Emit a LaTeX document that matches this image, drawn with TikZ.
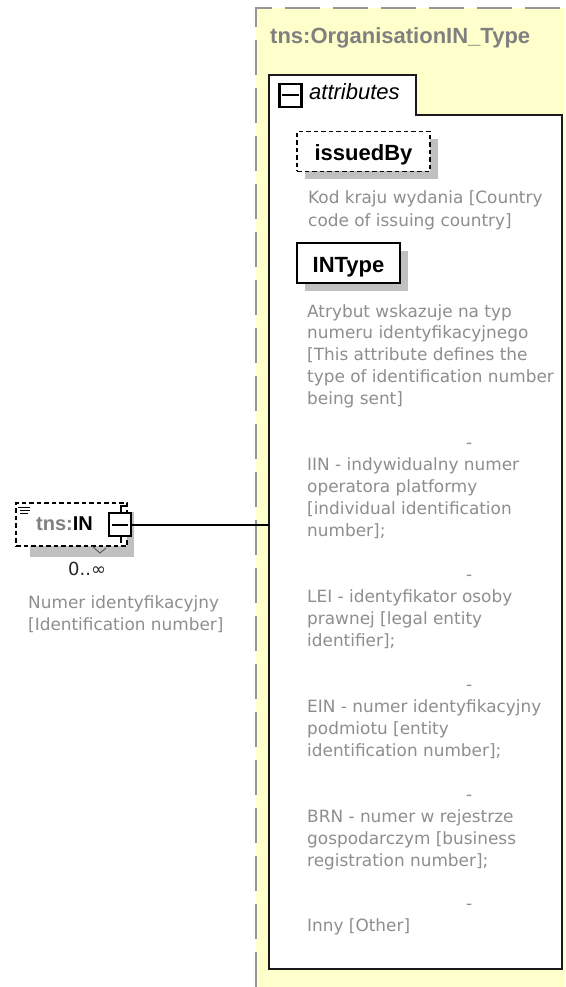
\documentclass[tikz,border=0pt]{standalone}
\usepackage{fontspec}
\setmainfont{DejaVu Sans}
\newfontfamily\arialf{Liberation Sans}
\usetikzlibrary{shadows,calc}
\definecolor{yel}{RGB}{255,255,204}
\definecolor{ttlcol}{RGB}{128,128,128}
\definecolor{desccol}{RGB}{142,142,142}
\definecolor{shdcol}{RGB}{192,192,192}
\definecolor{bordcol}{RGB}{150,150,150}
\begin{document}
\begin{tikzpicture}[x=1pt,y=-1pt,
  desctext/.style={anchor=base west, inner sep=0pt, text=desccol, font=\fontsize{16.9}{22}\selectfont},
  boldlabel/.style={font=\arialf\bfseries\fontsize{22}{22}\selectfont},
  attrbox/.style={draw=black, fill=white, line width=1.6pt, inner sep=0pt, boldlabel,
     drop shadow={shadow xshift=8pt, shadow yshift=-8pt, fill=shdcol, opacity=1}},
  smalldash/.style={dash pattern=on 4.5pt off 3pt},
  iconbox/.style={draw=black, fill=white, line width=2.2pt, inner sep=0pt, minimum width=22pt, minimum height=23pt}
]
\useasboundingbox (0,0) rectangle (565,987);
% outer type box
\fill[yel] (256,8) rectangle (565,987);
\draw[bordcol, line width=2pt, dash pattern=on 35pt off 13pt] (256,987) -- (256,8) -- (565,8);
\node[anchor=base west, inner sep=0pt, text=ttlcol, font=\arialf\bfseries\fontsize{22}{22}\selectfont] (title) at (270,44) {tns:OrganisationIN\_Type};
% attributes tab box
\draw[black!90, line width=1.8pt, fill=white] (269,969) -- (269,75) -- (416,75) -- (416,115) -- (562,115) -- (562,969) -- cycle;
\node[iconbox] (tabicon) at (290.5,95.5) {};
\draw[line width=2pt] ($(tabicon.west)+(4,0)$) -- ($(tabicon.east)+(-4,0)$);
\node[anchor=base west, inner sep=0pt, font=\arialf\itshape\fontsize{22}{22}\selectfont] (attrs) at (309,100) {attributes};
% attributes
\node[attrbox, smalldash, minimum width=133pt, minimum height=40pt, text height=20pt, text depth=1pt] (issued) at (363.5,151.5) {issuedBy};
\node[desctext] (k1) at (308,204) {Kod kraju wydania [Country};
\node[desctext] (k2) at (308,226) {code of issuing country]};
\node[attrbox, minimum width=103pt, minimum height=40pt, text height=19pt, text depth=1pt] (intype) at (348.5,263) {INType};
\foreach \i/\t in {0/{Atrybut wskazuje na typ},1/{numeru identyfikacyjnego},2/{[This attribute defines the},3/{type of identification number},4/{being sent]},
  7/{IIN - indywidualny numer},8/{operatora platformy},9/{[individual identification},10/{number];},
  13/{LEI - identyfikator osoby},14/{prawnej [legal entity},15/{identifier];},
  18/{EIN - numer identyfikacyjny},19/{podmiotu [entity},20/{identification number];},
  23/{BRN - numer w rejestrze},24/{gospodarczym [business},25/{registration number];},
  28/{Inny [Other]}}
  {\node[desctext] (d\i) at (307,317+21.96*\i) {\t};}
\foreach \i in {6,12,17,22,27}
  {\node[desctext] (dash\i) at (466,317+21.96*\i) {-};}
% left element
\fill[shdcol] (30,512) rectangle (134,557);
\node[draw=black, fill=white, smalldash, line width=1.5pt, minimum width=111pt, minimum height=43pt, inner sep=0pt] (inbox) at (71.5,524.5) {};
\draw[black!70, line width=0.8pt] (92,546) -- (100,553) -- (106,548);
\draw[black, line width=0.9pt] (18,507) -- (30,507) (20,510) -- (30,510) (20,513) -- (28,513);
\node[anchor=base west, inner sep=0pt, font=\arialf\bfseries\fontsize{20}{20}\selectfont] (inlabel) at (36,530) {\textcolor{ttlcol}{tns:}IN};
\node[iconbox] (inicon) at (120,524.5) {};
\draw[line width=2pt] ($(inicon.west)+(4,0)$) -- ($(inicon.east)+(-4,0)$);
\draw[line width=1.3pt] ($(inicon.north)+(1,0)$) -- ++(0,-6) -- ++(5,0);
\draw[line width=1.3pt] ($(inicon.south)+(1,0)$) -- ++(0,6);
\coordinate (attrL) at (269,524.5);
\draw[line width=2pt] (inicon.east) -- (attrL);
\node[anchor=base west, inner sep=0pt, text=black!85, font=\fontsize{18}{20}\selectfont] (card) at (68,575) {0..∞};
\node[desctext] (n1) at (28,608) {Numer identyfikacyjny};
\node[desctext] (n2) at (28,630) {[Identification number]};
\end{tikzpicture}
\end{document}
